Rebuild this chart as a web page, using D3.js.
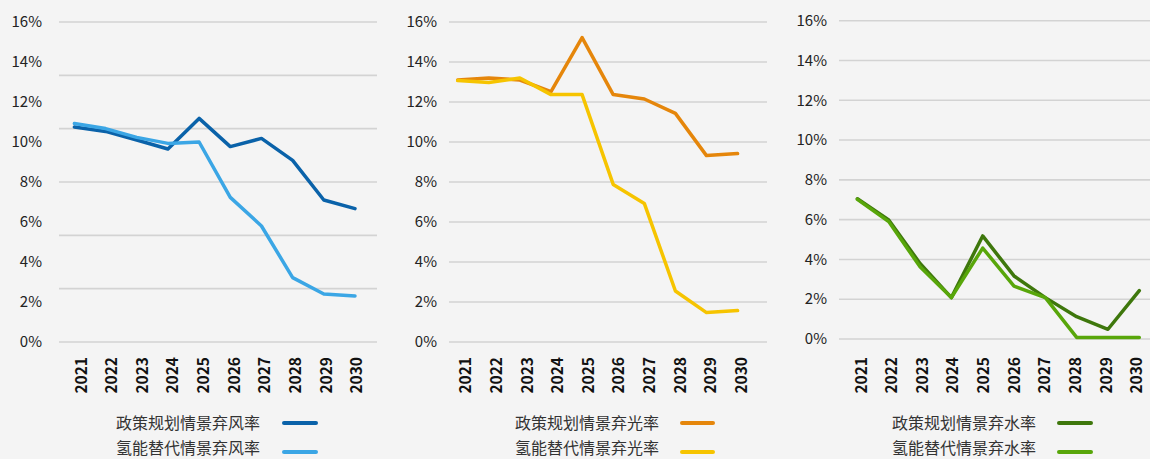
<html>
<head>
<meta charset="utf-8">
<script src="https://d3js.org/d3.v7.min.js"></script>
<style>
  body { margin: 0; background: #f4f4f4; }
  svg { display: block; }
</style>
</head>
<body>
<script>

    // years on the x axis
    let years = ["2021","2022","2023","2024","2025","2026","2027","2028","2029","2030"];

    // curtailment rates, %
    let windPolicy   = [10.75, 10.53, 10.1, 9.65, 11.18, 9.77, 10.18, 9.08, 7.1, 6.67];
    let windHydrogen = [10.92, 10.67, 10.23, 9.93, 10.0, 7.23, 5.8, 3.22, 2.4, 2.3];
    let solarPolicy   = [13.1, 13.2, 13.1, 12.52, 15.22, 12.37, 12.15, 11.43, 9.32, 9.42];
    let solarHydrogen = [13.07, 12.97, 13.2, 12.37, 12.37, 7.88, 6.93, 2.55, 1.47, 1.57];
    let hydroPolicy   = [7.05, 5.98, 3.8, 2.08, 5.18, 3.17, 2.08, 1.12, 0.49, 2.43];
    let hydroHydrogen = [7.02, 5.9, 3.63, 2.08, 4.57, 2.66, 2.08, 0.08, 0.08, 0.08];

    let yTicks = [0, 2, 4, 6, 8, 10, 12, 14, 16];

    let windNames  = ["政策规划情景弃风率", "氢能替代情景弃风率"];
    let solarNames = ["政策规划情景弃光率", "氢能替代情景弃光率"];
    let hydroNames = ["政策规划情景弃水率", "氢能替代情景弃水率"];

    let font = "'Noto Sans CJK SC', 'Noto Sans', sans-serif";

    let svg = d3.select("body").append("svg")
        .attr("width", 1150)
        .attr("height", 459);

    svg.append("rect").attr("width", 1150).attr("height", 459).attr("fill", "#f4f4f4");

    // one panel per energy type
    let panels = [
        {series: [windPolicy, windHydrogen], names: windNames, colors: ["#0a62a9", "#3ba6e5"],
         labelX: 42, grid: [59, 377], pts: [74.4, 355], labs: [81, 356.7], yr: [342, 22], gridCount: 7,
         legText: 260, legLine: [284, 316]},
        {series: [solarPolicy, solarHydrogen], names: solarNames, colors: ["#e5860b", "#f6c400"],
         labelX: 437, grid: [449, 767], pts: [457.7, 737.6], labs: [465.7, 741.3], yr: [342, 22], gridCount: 9,
         legText: 659, legLine: [682, 713]},
        {series: [hydroPolicy, hydroHydrogen], names: hydroNames, colors: ["#3e770c", "#58a60a"],
         labelX: 827, grid: [839, 1150], pts: [857.4, 1139.3], labs: [861, 1136.7], yr: [339, 20.7], gridCount: 9,
         legText: 1036, legLine: [1059, 1091]}
    ];

    panels.forEach(p => {
        let g = svg.append("g");

        let x = d3.scalePoint().domain(years).range(p.pts);
        let xl = d3.scalePoint().domain(years).range(p.labs);
        let y = d3.scaleLinear().domain([0, 16]).range(p.yr);

        //gridlines (first panel only has 6 intervals)
        let gridVals = d3.range(p.gridCount).map(i => 16 * i / (p.gridCount - 1));
        g.selectAll(".grid").data(gridVals).enter().append("line")
            .attr("x1", p.grid[0]).attr("x2", p.grid[1])
            .attr("y1", d => y(d)).attr("y2", d => y(d))
            .attr("stroke", "#d3d3d3")
            .attr("stroke-width", 1.6);

        //y labels
        g.selectAll(".ylab").data(yTicks).enter().append("text")
            .attr("x", p.labelX)
            .attr("y", d => y(d))
            .attr("dy", "0.35em")
            .attr("text-anchor", "end")
            .attr("font-family", font)
            .attr("font-size", 15)
            .attr("fill", "#222")
            .text(d => d + "%");

        //x labels, rotated
        g.selectAll(".xlab").data(years).enter().append("text")
            .attr("transform", d => "translate(" + xl(d) + ",357) rotate(-90)")
            .attr("dy", "0.36em")
            .attr("text-anchor", "end")
            .attr("font-family", font)
            .attr("font-weight", "bold")
            .attr("font-size", 15.5)
            .attr("fill", "#111")
            .text(d => d);

        let line = d3.line()
            .x((d, i) => x(years[i]))
            .y(d => y(d));

        p.series.forEach((s, k) => {
            g.append("path")
                .datum(s)
                .attr("d", line)
                .attr("fill", "none")
                .attr("stroke", p.colors[k])
                .attr("stroke-width", 3.5)
                .attr("stroke-linejoin", "round")
                .attr("stroke-linecap", "round");
        });

        //legend
        let legY = [423, 448];
        p.names.forEach((n, k) => {
            g.append("text")
                .attr("x", p.legText)
                .attr("y", legY[k])
                .attr("dy", "0.35em")
                .attr("text-anchor", "end")
                .attr("font-family", font)
                .attr("font-size", 16)
                .attr("fill", "#333")
                .text(n);
            g.append("line")
                .attr("x1", p.legLine[0]).attr("x2", p.legLine[1])
                .attr("y1", legY[k] + k * 4).attr("y2", legY[k] + k * 4)
                .attr("stroke", p.colors[k])
                .attr("stroke-width", 4)
                .attr("stroke-linecap", "round");
        });
    });
</script>
</body>
</html>
